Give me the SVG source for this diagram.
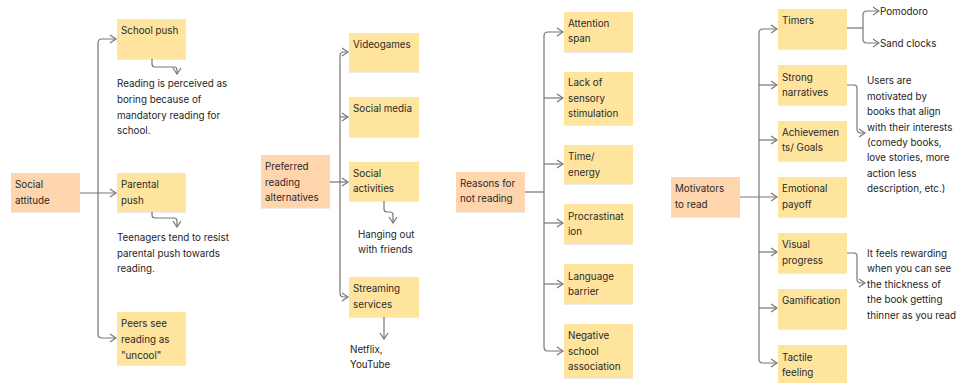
<svg xmlns="http://www.w3.org/2000/svg" width="958" height="383" viewBox="0 0 958 383">
<defs>
<marker id="ah" viewBox="0 0 8 10" refX="7" refY="5" markerWidth="8" markerHeight="10" markerUnits="userSpaceOnUse" orient="auto">
<path d="M1,1 L7,5 L1,9" fill="none" stroke="#767676" stroke-width="1.2"/>
</marker>
<filter id="sh" x="-10%" y="-10%" width="120%" height="130%">
<feDropShadow dx="0" dy="0.6" stdDeviation="0.6" flood-color="#000" flood-opacity="0.12"/>
</filter>
</defs>
<style>
.main{fill:#FFD5AE;filter:url(#sh)}
.sub{fill:#FFE49E;filter:url(#sh)}
text{font-family:Inter,"Noto Sans","Liberation Sans",sans-serif;font-size:9.8px;fill:#2a2a2a}
.note{fill:#1e1e1e}
.c path{fill:none;stroke:#767676;stroke-width:1.2}
.a{marker-end:url(#ah)}
</style>
<rect width="958" height="383" fill="#ffffff"/>

<g class="c" id="connectors">
<path class="a" d="M80,193 H116"/>
<path class="a" d="M98,193 V43 Q98,39 102,39 H116"/>
<path class="a" d="M98,193 V334 Q98,338 102,338 H116"/>
<path class="a" d="M152,59 V64 Q152,67 155,67 H174 Q177,67 177,70 V74"/>
<path class="a" d="M152,212 V215 Q152,218 155,218 H174 Q177,218 177,221 V227"/>

<path class="a" d="M330,182 H348"/>
<path class="a" d="M340,182 V56 Q340,52 344,52 H348"/>
<path class="a" d="M340,117 H348"/>
<path class="a" d="M340,182 V293 Q340,297 344,297 H348"/>
<path class="a" d="M384,201 V209 Q384,212 387,212 H390 Q393,212 393,215 V223"/>
<path class="a" d="M384,317 V339"/>

<path d="M525,192 H544"/>
<path class="a" d="M544,192 V36 Q544,32 548,32 H563"/>
<path class="a" d="M544,98 H563"/>
<path class="a" d="M544,164 H563"/>
<path class="a" d="M544,223 H563"/>
<path class="a" d="M544,284 H563"/>
<path class="a" d="M544,192 V347 Q544,351 548,351 H563"/>

<path class="a" d="M740,197 H777"/>
<path class="a" d="M759,197 V33 Q759,29 763,29 H777"/>
<path class="a" d="M759,85 H777"/>
<path class="a" d="M759,140 H777"/>
<path class="a" d="M759,252 H777"/>
<path class="a" d="M759,308 H777"/>
<path class="a" d="M759,197 V359 Q759,363 763,363 H777"/>

<path d="M847,28 H863"/>
<path class="a" d="M863,28 V15 Q863,11 867,11 H879"/>
<path class="a" d="M863,28 V39 Q863,43 867,43 H879"/>
<path class="a" d="M847,85 H854 Q857,85 857,88 V129 Q857,133 861,133 H865"/>
<path class="a" d="M847,253 H854 Q857,253 857,256 V279 Q857,283 861,283 H865"/>
</g>

<g id="social-attitude"><rect class="main" x="11" y="173" width="69" height="39"/><text x="15" y="188">Social</text><text x="15" y="204">attitude</text></g>
<g id="school-push"><rect class="sub" x="117" y="19" width="69" height="40"/><text x="121" y="34">School push</text></g>
<g id="school-note"><text class="note" x="117" y="87">Reading is perceived as</text><text class="note" x="117" y="103">boring because of</text><text class="note" x="117" y="119">mandatory reading for</text><text class="note" x="117" y="134">school.</text></g>
<g id="parental-push"><rect class="sub" x="117" y="173" width="69" height="39"/><text x="121" y="188">Parental</text><text x="121" y="204">push</text></g>
<g id="parental-note"><text class="note" x="117" y="241">Teenagers tend to resist</text><text class="note" x="117" y="257">parental push towards</text><text class="note" x="117" y="272">reading.</text></g>
<g id="peers"><rect class="sub" x="117" y="312" width="69" height="53"/><text x="121" y="327">Peers see</text><text x="121" y="343">reading as</text><text x="121" y="359">"uncool"</text></g>

<g id="preferred"><rect class="main" x="261" y="155" width="69" height="53"/><text x="265" y="170">Preferred</text><text x="265" y="186">reading</text><text x="265" y="201">alternatives</text></g>
<g id="videogames"><rect class="sub" x="349" y="33" width="70" height="39"/><text x="353" y="48">Videogames</text></g>
<g id="social-media"><rect class="sub" x="349" y="97" width="70" height="40"/><text x="353" y="112">Social media</text></g>
<g id="social-activities"><rect class="sub" x="349" y="162" width="70" height="39"/><text x="353" y="177">Social</text><text x="353" y="192">activities</text></g>
<g id="hanging-note"><text class="note" x="358" y="238">Hanging out</text><text class="note" x="358" y="253">with friends</text></g>
<g id="streaming"><rect class="sub" x="349" y="277" width="70" height="40"/><text x="353" y="292">Streaming</text><text x="353" y="308">services</text></g>
<g id="netflix-note"><text class="note" x="350" y="353">Netflix,</text><text class="note" x="350" y="368">YouTube</text></g>

<g id="reasons"><rect class="main" x="456" y="172" width="69" height="40"/><text x="460" y="187">Reasons for</text><text x="460" y="202">not reading</text></g>
<g id="attention"><rect class="sub" x="564" y="12" width="69" height="40"/><text x="568" y="27">Attention</text><text x="568" y="42">span</text></g>
<g id="lack"><rect class="sub" x="564" y="72" width="69" height="53"/><text x="568" y="86">Lack of</text><text x="568" y="102">sensory</text><text x="568" y="117">stimulation</text></g>
<g id="time"><rect class="sub" x="564" y="145" width="69" height="39"/><text x="568" y="160">Time/</text><text x="568" y="176">energy</text></g>
<g id="procrastination"><rect class="sub" x="564" y="204" width="69" height="40"/><text x="568" y="220">Procrastinat</text><text x="568" y="235">ion</text></g>
<g id="language"><rect class="sub" x="564" y="264" width="69" height="40"/><text x="568" y="280">Language</text><text x="568" y="295">barrier</text></g>
<g id="negative"><rect class="sub" x="564" y="324" width="69" height="54"/><text x="568" y="339">Negative</text><text x="568" y="355">school</text><text x="568" y="370">association</text></g>

<g id="motivators"><rect class="main" x="671" y="177" width="69" height="40"/><text x="675" y="192">Motivators</text><text x="675" y="208">to read</text></g>
<g id="timers"><rect class="sub" x="778" y="9" width="69" height="40"/><text x="782" y="24">Timers</text></g>
<g id="pomodoro"><text class="note" x="880" y="15">Pomodoro</text></g>
<g id="sand-clocks"><text class="note" x="880" y="47">Sand clocks</text></g>
<g id="strong"><rect class="sub" x="778" y="65" width="69" height="40"/><text x="782" y="81">Strong</text><text x="782" y="96">narratives</text></g>
<g id="strong-note"><text class="note" x="867" y="84">Users are</text><text class="note" x="867" y="100">motivated by</text><text class="note" x="867" y="115">books that align</text><text class="note" x="867" y="131">with their interests</text><text class="note" x="867" y="146">(comedy books,</text><text class="note" x="867" y="161">love stories, more</text><text class="note" x="867" y="177">action less</text><text class="note" x="867" y="192">description, etc.)</text></g>
<g id="achievements"><rect class="sub" x="778" y="121" width="69" height="40"/><text x="782" y="136">Achievemen</text><text x="782" y="151">ts/ Goals</text></g>
<g id="emotional"><rect class="sub" x="778" y="177" width="69" height="40"/><text x="782" y="192">Emotional</text><text x="782" y="208">payoff</text></g>
<g id="visual"><rect class="sub" x="778" y="233" width="69" height="40"/><text x="782" y="248">Visual</text><text x="782" y="264">progress</text></g>
<g id="visual-note"><text class="note" x="867" y="257">It feels rewarding</text><text class="note" x="867" y="272">when you can see</text><text class="note" x="867" y="288">the thickness of</text><text class="note" x="867" y="303">the book getting</text><text class="note" x="867" y="319">thinner as you read</text></g>
<g id="gamification"><rect class="sub" x="778" y="289" width="69" height="40"/><text x="782" y="304">Gamification</text></g>
<g id="tactile"><rect class="sub" x="778" y="345" width="69" height="40"/><text x="782" y="361">Tactile</text><text x="782" y="376">feeling</text></g>
</svg>
